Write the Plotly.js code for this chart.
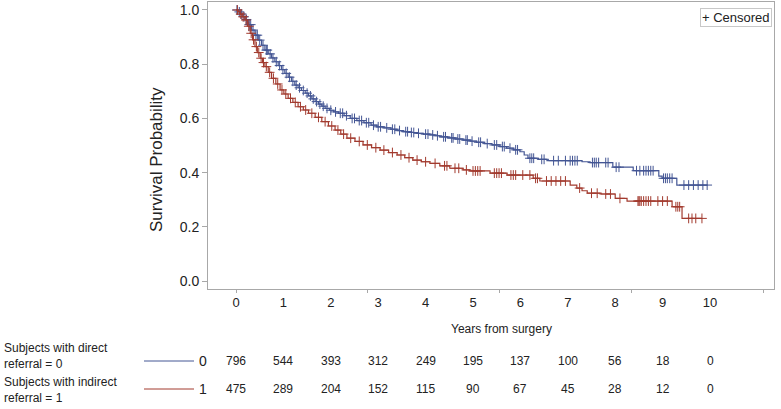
<!DOCTYPE html>
<html>
<head>
<meta charset="utf-8">
<script src="https://cdn.plot.ly/plotly-3.0.1.min.js"></script>
<style>html,body{margin:0;padding:0;background:#fff}#chart{width:781px;height:409px}</style>
</head>
<body>
<div id="chart"></div>
<script>
// ---- Data ----
const directTimes = [0,0.05,0.1,0.15,0.19,0.26,0.33,0.4,0.47,0.54,0.61,0.68,0.75,0.82,0.89,0.96,1.03,1.1,1.17,1.24,1.31,1.38,1.46,1.53,1.6,1.67,1.74,1.81,1.88,1.97,2.06,2.16,2.28,2.41,2.55,2.7,2.85,2.97,3.12,3.27,3.4,3.52,3.66,3.8,3.95,4.09,4.2,4.3,4.46,4.62,4.79,4.94,5.08,5.24,5.4,5.57,5.71,5.85,5.99,6.08,6.16,6.38,6.56,7.3,7.47,7.95,8.38,8.92,8.99,9.3];
const directSurv = [1.0,0.993,0.985,0.975,0.965,0.946,0.926,0.907,0.889,0.870,0.852,0.838,0.823,0.809,0.795,0.780,0.766,0.752,0.737,0.723,0.713,0.703,0.693,0.683,0.672,0.662,0.653,0.645,0.637,0.630,0.624,0.619,0.610,0.600,0.592,0.584,0.575,0.569,0.565,0.560,0.555,0.551,0.548,0.545,0.542,0.539,0.536,0.532,0.528,0.524,0.520,0.516,0.512,0.507,0.502,0.496,0.490,0.484,0.477,0.465,0.453,0.449,0.444,0.440,0.437,0.420,0.407,0.387,0.379,0.354];
const directCensor = [0.02,0.07,0.12,0.17,0.22,0.28,0.31,0.36,0.42,0.45,0.5,0.57,0.64,0.66,0.72,0.78,0.85,0.92,0.99,1.06,1.13,1.2,1.27,1.34,1.42,1.5,1.57,1.63,1.7,1.77,1.84,1.92,2.0,2.1,2.2,2.25,2.33,2.45,2.5,2.6,2.65,2.75,2.8,2.9,3.0,3.05,3.18,3.3,3.35,3.45,3.58,3.62,3.7,3.75,3.85,4.0,4.05,4.15,4.25,4.38,4.42,4.55,4.58,4.68,4.72,4.85,4.88,4.98,5.12,5.16,5.3,5.45,5.5,5.62,5.66,5.78,5.9,5.94,6.2,6.24,6.28,6.45,6.5,6.7,6.8,6.95,7.05,7.1,7.15,7.2,7.52,7.56,7.6,7.65,7.8,7.85,8.02,8.08,8.45,8.52,8.6,8.65,8.7,8.75,8.8,9.02,9.06,9.1,9.15,9.2,9.45,9.55,9.65,9.75,9.85,9.94];

const indirectTimes = [0,0.04,0.08,0.13,0.19,0.24,0.3,0.35,0.4,0.45,0.51,0.56,0.61,0.68,0.75,0.84,0.93,1.01,1.1,1.2,1.31,1.42,1.53,1.67,1.81,1.95,2.09,2.21,2.34,2.51,2.68,2.86,3.04,3.22,3.4,3.56,3.73,3.91,4.09,4.3,4.51,4.79,4.93,5.36,5.72,6.27,6.41,7.05,7.19,7.3,7.41,7.68,8.0,8.25,9.2,9.41];
const indirectSurv = [1.0,0.994,0.985,0.975,0.963,0.94,0.914,0.89,0.865,0.843,0.822,0.806,0.791,0.77,0.748,0.727,0.705,0.69,0.674,0.659,0.643,0.631,0.619,0.604,0.588,0.572,0.557,0.542,0.527,0.515,0.502,0.492,0.483,0.474,0.465,0.455,0.446,0.440,0.434,0.425,0.416,0.410,0.406,0.398,0.391,0.379,0.369,0.354,0.343,0.333,0.324,0.321,0.305,0.295,0.274,0.231];
const indirectCensor = [0.03,0.1,0.15,0.21,0.27,0.32,0.37,0.43,0.48,0.53,0.58,0.64,0.71,0.79,0.88,0.97,1.05,1.15,1.25,1.36,1.47,1.6,1.74,1.88,2.02,2.15,2.27,2.42,2.6,2.77,2.95,3.12,3.3,3.48,3.65,3.82,4.0,4.2,4.4,4.45,4.62,4.7,4.86,5.0,5.05,5.1,5.15,5.45,5.5,5.55,5.6,5.8,5.85,5.9,6.05,6.2,6.32,6.36,6.55,6.65,6.75,6.85,6.95,7.25,7.5,7.62,7.8,7.9,8.1,8.48,8.5,8.52,8.55,8.6,8.65,8.7,8.75,8.9,9.0,9.1,9.28,9.32,9.36,9.55,9.62,9.7,9.83];

const riskYears = [0,1,2,3,4,5,6,7,8,9,10];
const riskDirect = [796,544,393,312,249,195,137,100,56,18,0];
const riskIndirect = [475,289,204,152,115,90,67,45,28,12,0];
const yTicks = [0,0.2,0.4,0.6,0.8,1.0];
const xTickMarks = [0,2.78,5.56,8.34,11.12];

// ---- Styling ----
const BLUE = '#445694', RED = '#A23A2E';
const FONT = 'Arial, "Liberation Sans", sans-serif';
const W = 781, H = 409, ML = 208, MR = 7, MT = 2, MB = 120;
const PW = W - ML - MR, PH = H - MT - MB;
const px = v => (v - ML) / PW;        // pixel x -> paper
const py = v => (H - MB - v) / PH;    // pixel y -> paper

function kmAt(times, surv, t) {
  let s = surv[0];
  for (let i = 0; i < times.length; i++) { if (times[i] <= t) s = surv[i]; else break; }
  return s;
}
function curve(times, surv, cens, color, name) {
  const end = Math.max(...cens);
  const line = {
    x: times.concat([end]), y: surv.concat([surv[surv.length - 1]]),
    mode: 'lines', line: {shape: 'hv', color: color, width: 1.2},
    hoverinfo: 'skip', showlegend: false, name: name
  };
  const marks = {
    x: cens, y: cens.map(t => kmAt(times, surv, t)),
    mode: 'markers', marker: {symbol: 'cross-thin', size: 7, color: color, line: {width: 1, color: color}},
    showlegend: false, name: name + ' censored'
  };
  return [line, marks];
}

const data = [
  ...curve(directTimes, directSurv, directCensor, BLUE, 'direct'),
  ...curve(indirectTimes, indirectSurv, indirectCensor, RED, 'indirect'),
  {x: [null], y: [null], xaxis: 'x2', yaxis: 'y', mode: 'markers', showlegend: false}
];

const xr = [(ML - 236) / 47.4, (W - MR - 236) / 47.4];
const annotations = [];
riskYears.forEach((yr, i) => {
  annotations.push({xref: 'x', yref: 'paper', x: yr, y: py(361), text: String(riskDirect[i]), showarrow: false, font: {size: 12, color: '#222', family: FONT}, xanchor: 'center', yanchor: 'middle'});
  annotations.push({xref: 'x', yref: 'paper', x: yr, y: py(389), text: String(riskIndirect[i]), showarrow: false, font: {size: 12, color: '#222', family: FONT}, xanchor: 'center', yanchor: 'middle'});
});
annotations.push(
  {xref: 'paper', yref: 'paper', x: px(157), y: py(160), text: 'Survival Probability', textangle: -90, showarrow: false, xanchor: 'center', yanchor: 'middle', font: {size: 17, color: '#222', family: FONT}},
  {xref: 'paper', yref: 'paper', x: px(2), y: py(355.5), text: 'Subjects with direct<br>referral = 0', align: 'left', showarrow: false, xanchor: 'left', yanchor: 'middle', font: {size: 12, color: '#222', family: FONT}},
  {xref: 'paper', yref: 'paper', x: px(2), y: py(389.5), text: 'Subjects with indirect<br>referral = 1', align: 'left', showarrow: false, xanchor: 'left', yanchor: 'middle', font: {size: 12, color: '#222', family: FONT}},
  {xref: 'paper', yref: 'paper', x: px(197), y: py(361), text: '0', showarrow: false, xanchor: 'left', yanchor: 'middle', font: {size: 14, color: '#222', family: FONT}},
  {xref: 'paper', yref: 'paper', x: px(197), y: py(389), text: '1', showarrow: false, xanchor: 'left', yanchor: 'middle', font: {size: 14, color: '#222', family: FONT}},
  {xref: 'paper', yref: 'paper', x: px(501), y: py(329), text: 'Years from surgery', showarrow: false, xanchor: 'center', yanchor: 'middle', font: {size: 12, color: '#222', family: FONT}},
  {xref: 'paper', yref: 'paper', x: px(772), y: py(8), text: '+ Censored', showarrow: false, xanchor: 'right', yanchor: 'top', bgcolor: '#fff', bordercolor: '#c8c8c8', borderwidth: 1, borderpad: 1, font: {size: 13, color: '#222', family: FONT}}
);

const layout = {
  width: W, height: H,
  margin: {l: ML, r: MR, t: MT, b: MB, pad: 0},
  paper_bgcolor: '#fff', plot_bgcolor: '#fff',
  font: {family: FONT, color: '#222'},
  showlegend: false,
  xaxis: {
    range: xr, tickvals: riskYears, ticks: '', showgrid: false, zeroline: false,
    showline: true, mirror: true, linecolor: '#a8a8a8', linewidth: 1,
    tickfont: {size: 13, color: '#222', family: FONT}, ticklabelstandoff: 1
  },
  xaxis2: {
    overlaying: 'x', anchor: 'y', side: 'bottom', range: xr, tickvals: xTickMarks,
    showticklabels: false, ticks: 'outside', ticklen: 3, tickcolor: '#a8a8a8', showgrid: false, zeroline: false, showline: false
  },
  yaxis: {
    range: [-0.0295, 1.0295], tickvals: yTicks, tickformat: '.1f', ticks: 'outside', ticklen: 5, tickcolor: '#a8a8a8',
    showgrid: false, zeroline: false, showline: true, mirror: true, linecolor: '#a8a8a8', linewidth: 1,
    tickfont: {size: 14, color: '#222', family: FONT}
  },
  shapes: [
    {type: 'line', xref: 'paper', yref: 'paper', x0: px(144), x1: px(194), y0: py(361), y1: py(361), line: {color: BLUE, width: 1}},
    {type: 'line', xref: 'paper', yref: 'paper', x0: px(144), x1: px(194), y0: py(389), y1: py(389), line: {color: RED, width: 1}}
  ],
  annotations: annotations
};

Plotly.newPlot('chart', data, layout, {displayModeBar: false, staticPlot: true});
</script>
</body>
</html>
